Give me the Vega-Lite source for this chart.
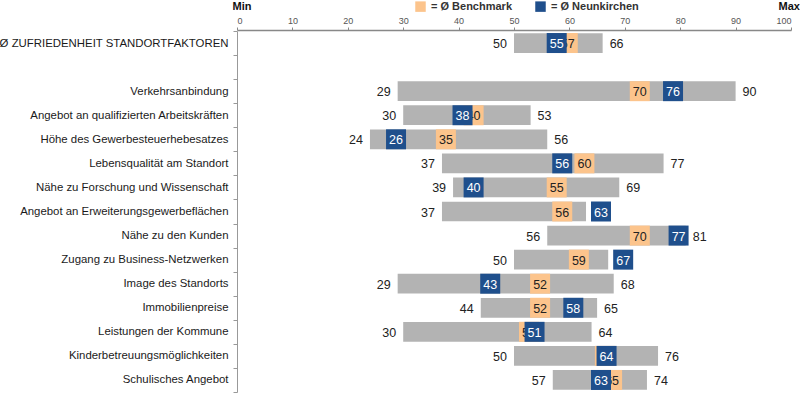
{
  "$schema": "https://vega.github.io/schema/vega-lite/v6.json",
  "width": 554,
  "height": 361,
  "autosize": {"type": "none"},
  "padding": {"left": 237, "top": 31, "right": 9, "bottom": 1},
  "background": "white",
  "config": {"font": "Liberation Sans", "view": {"stroke": null}},
  "datasets": {
    "ranges": [
      {"factor": "Ø ZUFRIEDENHEIT STANDORTFAKTOREN", "min": 50, "max": 66},
      {"factor": "Verkehrsanbindung", "min": 29, "max": 90},
      {"factor": "Angebot an qualifizierten Arbeitskräften", "min": 30, "max": 53},
      {"factor": "Höhe des Gewerbesteuerhebesatzes", "min": 24, "max": 56},
      {"factor": "Lebensqualität am Standort", "min": 37, "max": 77},
      {"factor": "Nähe zu Forschung und Wissenschaft", "min": 39, "max": 69},
      {"factor": "Angebot an Erweiterungsgewerbeflächen", "min": 37, "max": 63},
      {"factor": "Nähe zu den Kunden", "min": 56, "max": 81},
      {"factor": "Zugang zu Business-Netzwerken", "min": 50, "max": 67},
      {"factor": "Image des Standorts", "min": 29, "max": 68},
      {"factor": "Immobilienpreise", "min": 44, "max": 65},
      {"factor": "Leistungen der Kommune", "min": 30, "max": 64},
      {"factor": "Kinderbetreuungsmöglichkeiten", "min": 50, "max": 76},
      {"factor": "Schulisches Angebot", "min": 57, "max": 74}
    ],
    "markers": [
      {"factor": "Ø ZUFRIEDENHEIT STANDORTFAKTOREN", "series": "Benchmark", "value": 57},
      {"factor": "Ø ZUFRIEDENHEIT STANDORTFAKTOREN", "series": "Neunkirchen", "value": 55},
      {"factor": "Verkehrsanbindung", "series": "Benchmark", "value": 70},
      {"factor": "Verkehrsanbindung", "series": "Neunkirchen", "value": 76},
      {"factor": "Angebot an qualifizierten Arbeitskräften", "series": "Benchmark", "value": 40},
      {"factor": "Angebot an qualifizierten Arbeitskräften", "series": "Neunkirchen", "value": 38},
      {"factor": "Höhe des Gewerbesteuerhebesatzes", "series": "Benchmark", "value": 35},
      {"factor": "Höhe des Gewerbesteuerhebesatzes", "series": "Neunkirchen", "value": 26},
      {"factor": "Lebensqualität am Standort", "series": "Benchmark", "value": 60},
      {"factor": "Lebensqualität am Standort", "series": "Neunkirchen", "value": 56},
      {"factor": "Nähe zu Forschung und Wissenschaft", "series": "Benchmark", "value": 55},
      {"factor": "Nähe zu Forschung und Wissenschaft", "series": "Neunkirchen", "value": 40},
      {"factor": "Angebot an Erweiterungsgewerbeflächen", "series": "Benchmark", "value": 56},
      {"factor": "Angebot an Erweiterungsgewerbeflächen", "series": "Neunkirchen", "value": 63},
      {"factor": "Nähe zu den Kunden", "series": "Benchmark", "value": 70},
      {"factor": "Nähe zu den Kunden", "series": "Neunkirchen", "value": 77},
      {"factor": "Zugang zu Business-Netzwerken", "series": "Benchmark", "value": 59},
      {"factor": "Zugang zu Business-Netzwerken", "series": "Neunkirchen", "value": 67},
      {"factor": "Image des Standorts", "series": "Benchmark", "value": 52},
      {"factor": "Image des Standorts", "series": "Neunkirchen", "value": 43},
      {"factor": "Immobilienpreise", "series": "Benchmark", "value": 52},
      {"factor": "Immobilienpreise", "series": "Neunkirchen", "value": 58},
      {"factor": "Leistungen der Kommune", "series": "Benchmark", "value": 50},
      {"factor": "Leistungen der Kommune", "series": "Neunkirchen", "value": 51},
      {"factor": "Kinderbetreuungsmöglichkeiten", "series": "Benchmark", "value": 63.7},
      {"factor": "Kinderbetreuungsmöglichkeiten", "series": "Neunkirchen", "value": 64},
      {"factor": "Schulisches Angebot", "series": "Benchmark", "value": 65},
      {"factor": "Schulisches Angebot", "series": "Neunkirchen", "value": 63}
    ]
  },
  "encoding": {
    "y": {
      "field": "factor",
      "type": "nominal",
      "scale": {
        "domain": [
          "Ø ZUFRIEDENHEIT STANDORTFAKTOREN", " ", "Verkehrsanbindung",
          "Angebot an qualifizierten Arbeitskräften", "Höhe des Gewerbesteuerhebesatzes",
          "Lebensqualität am Standort", "Nähe zu Forschung und Wissenschaft",
          "Angebot an Erweiterungsgewerbeflächen", "Nähe zu den Kunden",
          "Zugang zu Business-Netzwerken", "Image des Standorts", "Immobilienpreise",
          "Leistungen der Kommune", "Kinderbetreuungsmöglichkeiten", "Schulisches Angebot"
        ],
        "paddingInner": 0,
        "paddingOuter": 0
      },
      "axis": {
        "title": "Max",
        "titleAngle": 0,
        "titleX": 541,
        "titleY": -22,
        "titleAlign": "left",
        "titleBaseline": "alphabetic",
        "titleFontSize": 11,
        "titleFontWeight": "bold",
        "titleColor": "#111111",
        "tickBand": "extent",
        "tickSize": 4,
        "tickColor": "#999999",
        "domainColor": "#999999",
        "labelFontSize": 11.4,
        "labelColor": "#1a1a1a",
        "labelPadding": 5,
        "labelLimit": 300,
        "grid": false
      }
    }
  },
  "layer": [
    {
      "data": {"name": "ranges"},
      "mark": {"type": "bar", "color": "#b3b3b3", "height": {"band": 0.82}},
      "encoding": {
        "x": {
          "field": "min",
          "type": "quantitative",
          "scale": {"domain": [0, 100], "nice": false},
          "axis": {
            "orient": "top",
            "values": [0, 10, 20, 30, 40, 50, 60, 70, 80, 90, 100],
            "offset": 1,
            "title": "Min",
            "titleX": -5,
            "titleY": -21,
            "titleAlign": "left",
            "titleBaseline": "alphabetic",
            "titleFontSize": 11,
            "titleFontWeight": "bold",
            "titleColor": "#111111",
            "labelFontSize": 9,
            "labelColor": "#555555",
            "labelPadding": 2,
            "tickSize": 3,
            "tickColor": "#888888",
            "domainColor": "#888888",
            "domainWidth": 1.5,
            "grid": false
          }
        },
        "x2": {"field": "max"}
      }
    },
    {
      "data": {"name": "ranges"},
      "mark": {"type": "text", "align": "right", "baseline": "middle", "dx": -7, "dy": 1, "fontSize": 12.5, "color": "#222222"},
      "encoding": {"x": {"field": "min", "type": "quantitative"}, "text": {"field": "min", "type": "quantitative"}}
    },
    {
      "data": {"name": "ranges"},
      "mark": {"type": "text", "align": "left", "baseline": "middle", "dx": 7, "dy": 1, "fontSize": 12.5, "color": "#222222"},
      "encoding": {"x": {"field": "max", "type": "quantitative"}, "text": {"field": "max", "type": "quantitative"}}
    },
    {
      "data": {"name": "markers"},
      "transform": [{"filter": "datum.series === 'Benchmark'"}],
      "mark": {"type": "square", "size": 400, "opacity": 1, "xOffset": 15},
      "encoding": {
        "x": {"field": "value", "type": "quantitative"},
        "color": {
          "field": "series",
          "type": "nominal",
          "scale": {"domain": ["Benchmark", "Neunkirchen"], "range": ["#fcc48c", "#1f4f8c"]},
          "legend": {
            "orient": "none",
            "legendX": 178,
            "legendY": -30,
            "direction": "horizontal",
            "title": null,
            "symbolType": "square",
            "symbolSize": 110,
            "symbolOpacity": 1,
            "symbolStrokeWidth": 0,
            "labelExpr": "'= Ø ' + datum.label",
            "labelFontSize": 11,
            "labelFontWeight": "bold",
            "labelColor": "#333333",
            "labelOffset": 5,
            "columnPadding": 22,
            "padding": 0
          }
        }
      }
    },
    {
      "data": {"name": "markers"},
      "transform": [{"filter": "datum.series === 'Benchmark'"}],
      "mark": {"type": "text", "align": "center", "baseline": "middle", "dx": 15, "dy": 1, "fontSize": 12.5, "color": "#222222"},
      "encoding": {"x": {"field": "value", "type": "quantitative"}, "text": {"field": "value", "type": "quantitative", "format": ".0f"}}
    },
    {
      "data": {"name": "markers"},
      "transform": [{"filter": "datum.series === 'Neunkirchen'"}],
      "mark": {"type": "square", "size": 400, "opacity": 1, "xOffset": 15},
      "encoding": {
        "x": {"field": "value", "type": "quantitative"},
        "color": {"field": "series", "type": "nominal"}
      }
    },
    {
      "data": {"name": "markers"},
      "transform": [{"filter": "datum.series === 'Neunkirchen'"}],
      "mark": {"type": "text", "align": "center", "baseline": "middle", "dx": 15, "dy": 1, "fontSize": 12.5, "color": "white"},
      "encoding": {"x": {"field": "value", "type": "quantitative"}, "text": {"field": "value", "type": "quantitative", "format": ".0f"}}
    }
  ]
}
